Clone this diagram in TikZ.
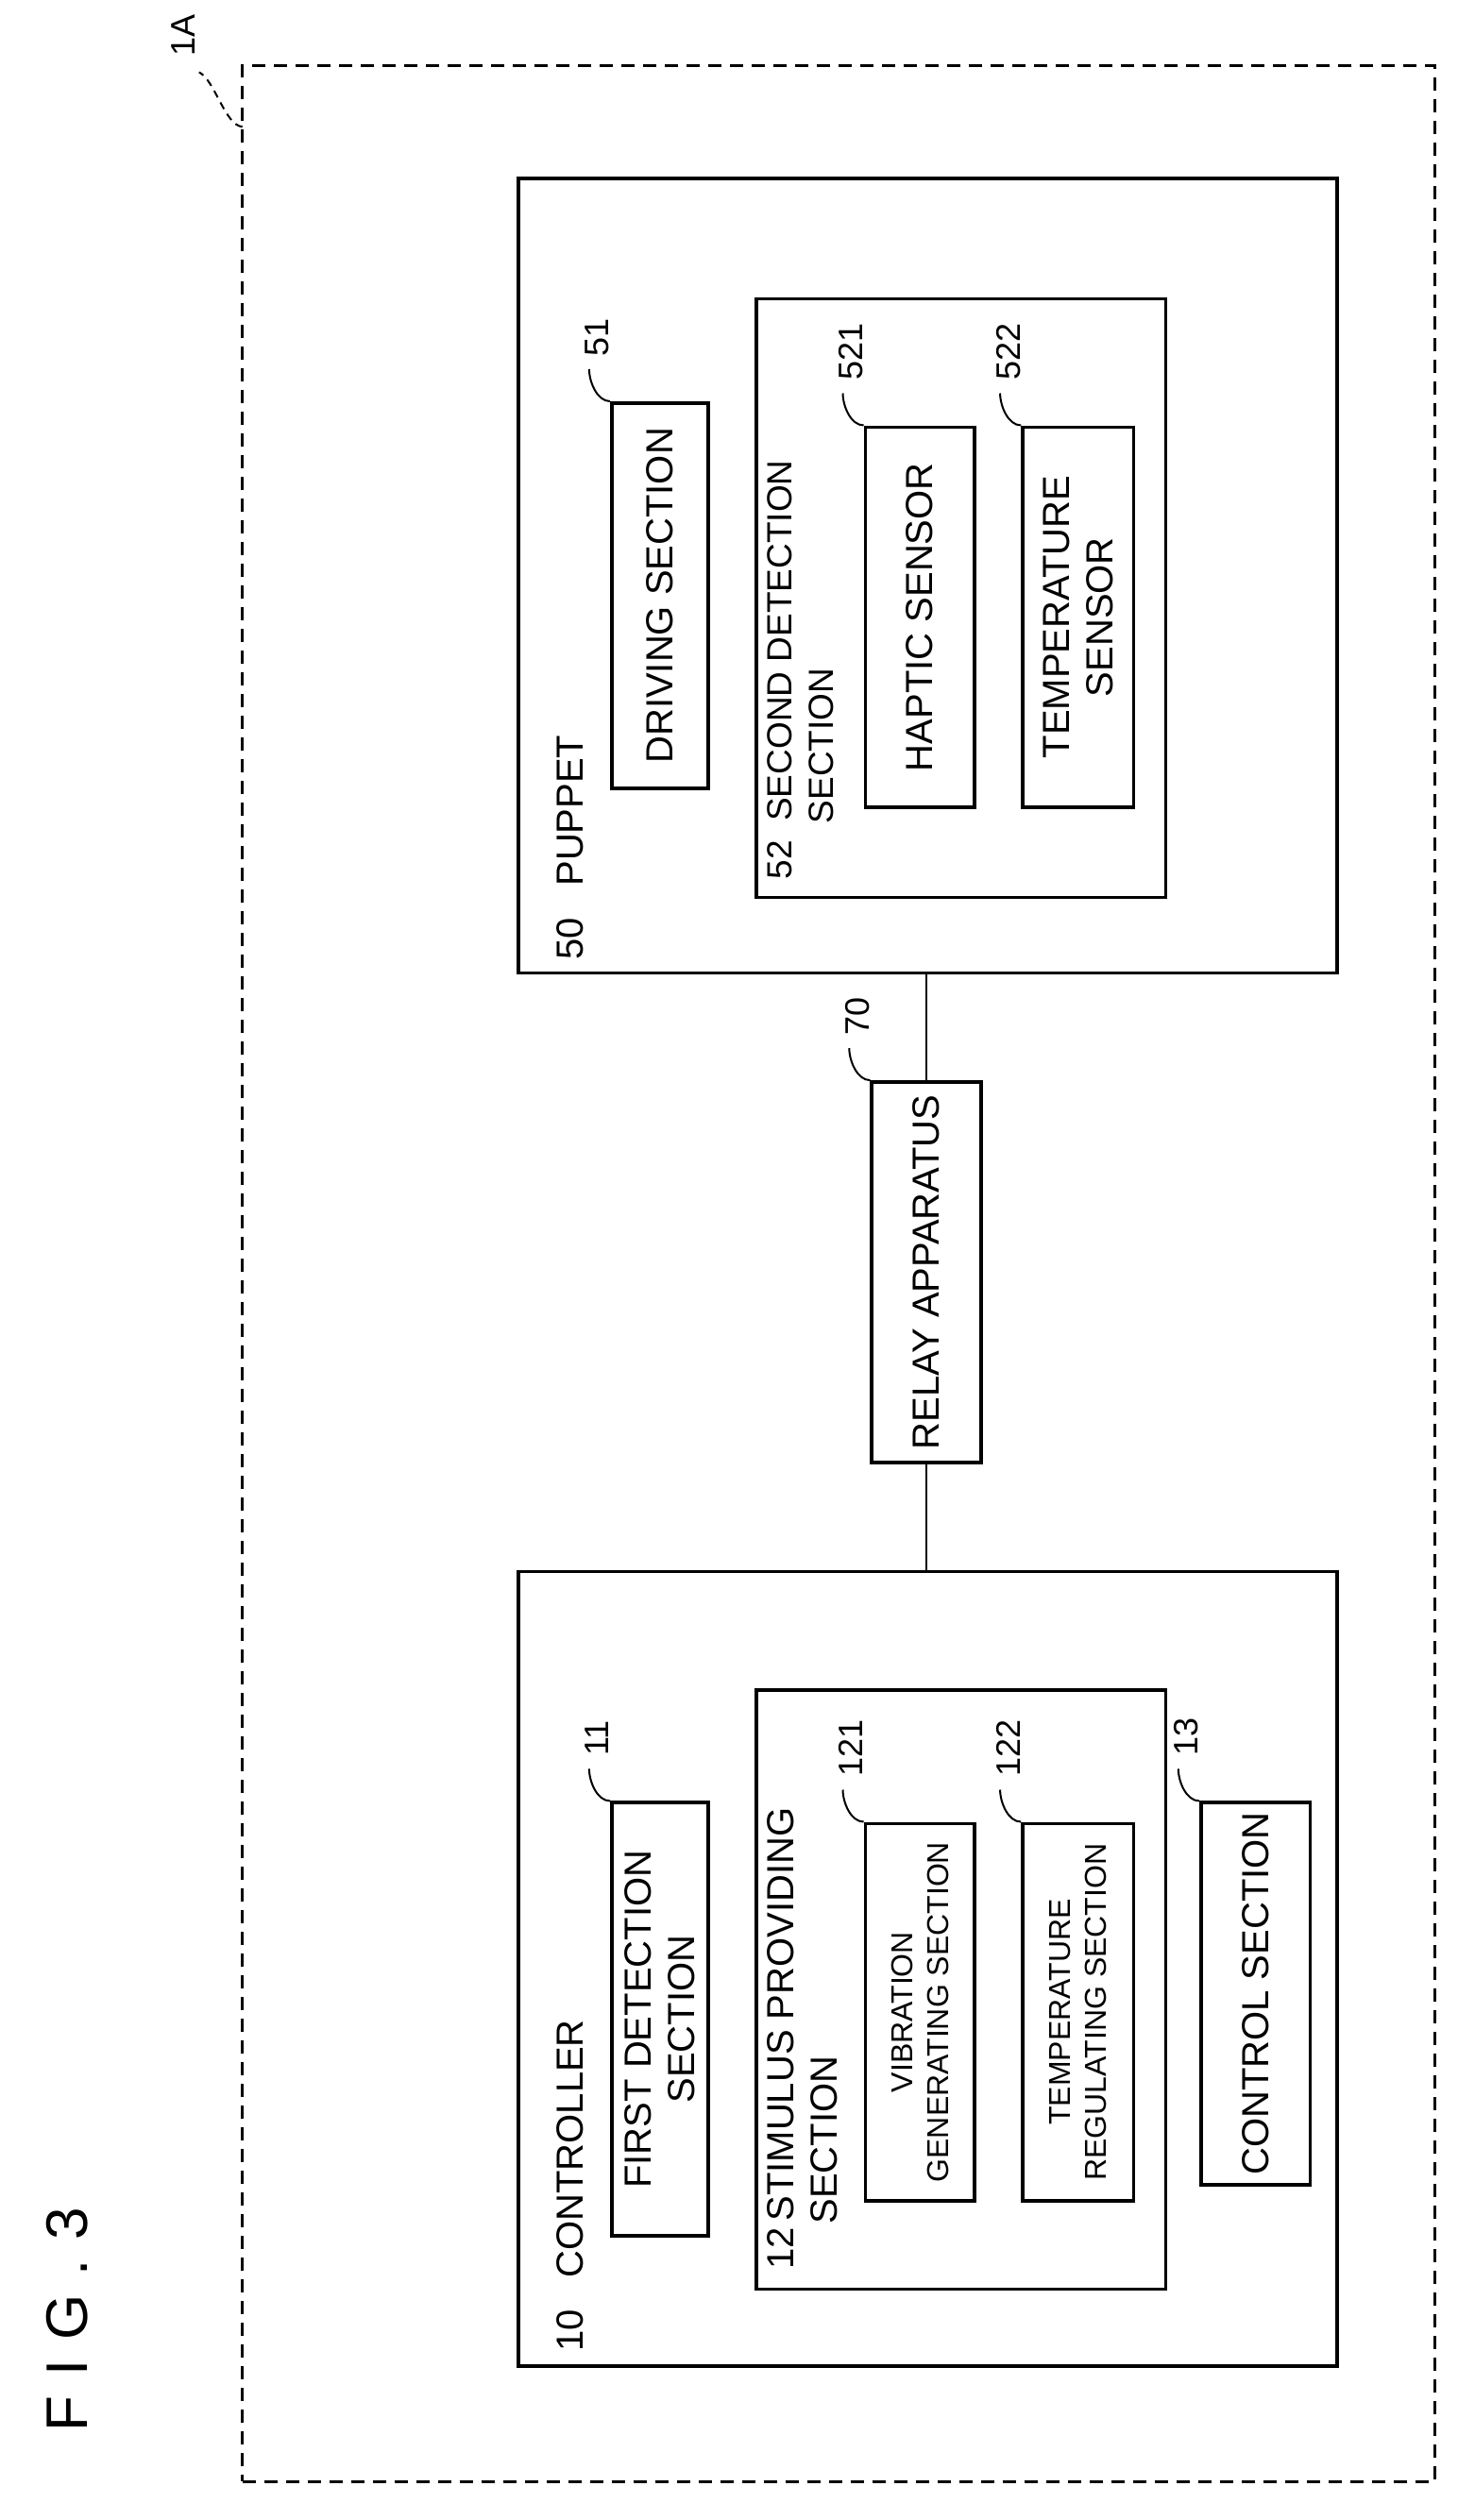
\documentclass[tikz,border=0pt]{standalone}
\usepackage{fontspec}
\setmainfont{Liberation Sans}
\begin{document}
\begin{tikzpicture}[x=1.7pt,y=-1.7pt,
 box/.style={draw,line width=3.6pt},
 lbl/.style={rotate=90,font=\fontsize{40}{46}\selectfont,inner sep=0pt,align=center},
 sm/.style={font=\fontsize{32}{38}\selectfont},
 num/.style={rotate=90,font=\fontsize{36}{36}\selectfont,inner sep=0pt},
 lead/.style={line width=2pt}]
\useasboundingbox (0,0) rectangle (908,1570);
\fill[white] (0,0) rectangle (908,1570);
\node[box,dashed,dash pattern=on 14pt off 9pt,minimum width=743*1.7pt,minimum height=1505*1.7pt,anchor=north west,line width=3pt] (outer) at (150,40) {};
% 1A
\coordinate (oa) at (151,79);
\draw[lead,dashed,dash pattern=on 8pt off 6pt] (oa) .. controls (140,78) and (134,50) .. (124,45) coordinate (oe);
\node[num] (n1A) at (114,22) {1A};
\node[rotate=90,font=\fontsize{62}{62}\selectfont,inner sep=0pt] (fig) at (42,1445) {F\,\,I\,\,G\,\,.\,\,3};
% puppet
\node[box,anchor=north west,minimum width=510*1.7pt,minimum height=495*1.7pt] (pup) at (322,110) {};
\node[lbl,anchor=west] (pupl) at (355,598) {50\ \ \ PUPPET};
\node[box,anchor=north west,minimum width=60*1.7pt,minimum height=240*1.7pt] (drv) at (380,250) {};
\node[lbl] at (drv) {DRIVING SECTION};
\node[box,anchor=north west,minimum width=255*1.7pt,minimum height=373*1.7pt] (sec) at (470,185) {};
\node[lbl,font=\fontsize{37}{44}\selectfont,anchor=north west,align=left] (secl) at (478,548) {52\ \ SECOND DETECTION\\\hspace*{1.6em}SECTION};
\node[box,anchor=north west,minimum width=68*1.7pt,minimum height=237*1.7pt] (hap) at (538,265) {};
\node[lbl] at (hap) {HAPTIC SENSOR};
\node[box,anchor=north west,minimum width=69*1.7pt,minimum height=237*1.7pt] (tmp) at (636,265) {};
\node[lbl] at (tmp) {TEMPERATURE\\SENSOR};
% relay
\node[box,anchor=north west,minimum width=68*1.7pt,minimum height=237*1.7pt] (rel) at (542,673) {};
\node[lbl] at (rel) {RELAY APPARATUS};
% controller
\node[box,anchor=north west,minimum width=510*1.7pt,minimum height=495*1.7pt] (ctl) at (322,978) {};
\node[lbl,anchor=west] (ctll) at (355,1465) {10\ \ \ CONTROLLER};
\node[box,anchor=north west,minimum width=60*1.7pt,minimum height=270*1.7pt] (fd) at (380,1122) {};
\node[lbl] at (fd) {FIRST DETECTION\\SECTION};
\node[box,anchor=north west,minimum width=255*1.7pt,minimum height=373*1.7pt] (stim) at (470,1052) {};
\node[lbl,anchor=north west,align=left] (stiml) at (478,1414) {12\,STIMULUS PROVIDING\\\hspace*{1.2em}SECTION};
\node[box,anchor=north west,minimum width=68*1.7pt,minimum height=235*1.7pt] (vib) at (538,1135) {};
\node[lbl,sm] at (vib) {VIBRATION\\GENERATING SECTION};
\node[box,anchor=north west,minimum width=69*1.7pt,minimum height=235*1.7pt] (treg) at (636,1135) {};
\node[lbl,sm] at (treg) {TEMPERATURE\\REGULATING SECTION};
\node[box,anchor=north west,minimum width=68*1.7pt,minimum height=238*1.7pt] (cs) at (747,1122) {};
\node[lbl] at (cs) {CONTROL SECTION};
% connectors
\draw[line width=2pt] (pup.south-|rel.north) -- (rel.north);
\draw[line width=2pt] (rel.south) -- (ctl.north-|rel.south);
% leaders
\foreach \b/\t in {drv/51,hap/521,tmp/522,rel/70,fd/11,vib/121,treg/122,cs/13}{
  \draw[lead] (\b.north west) .. controls ++(-8,0) and ++(0,8) .. ++(-13,-20) coordinate (e\b);
  \node[num,anchor=west] (l\b) at ([shift={(5,-8)}]e\b) {\t};
}
\end{tikzpicture}
\end{document}
